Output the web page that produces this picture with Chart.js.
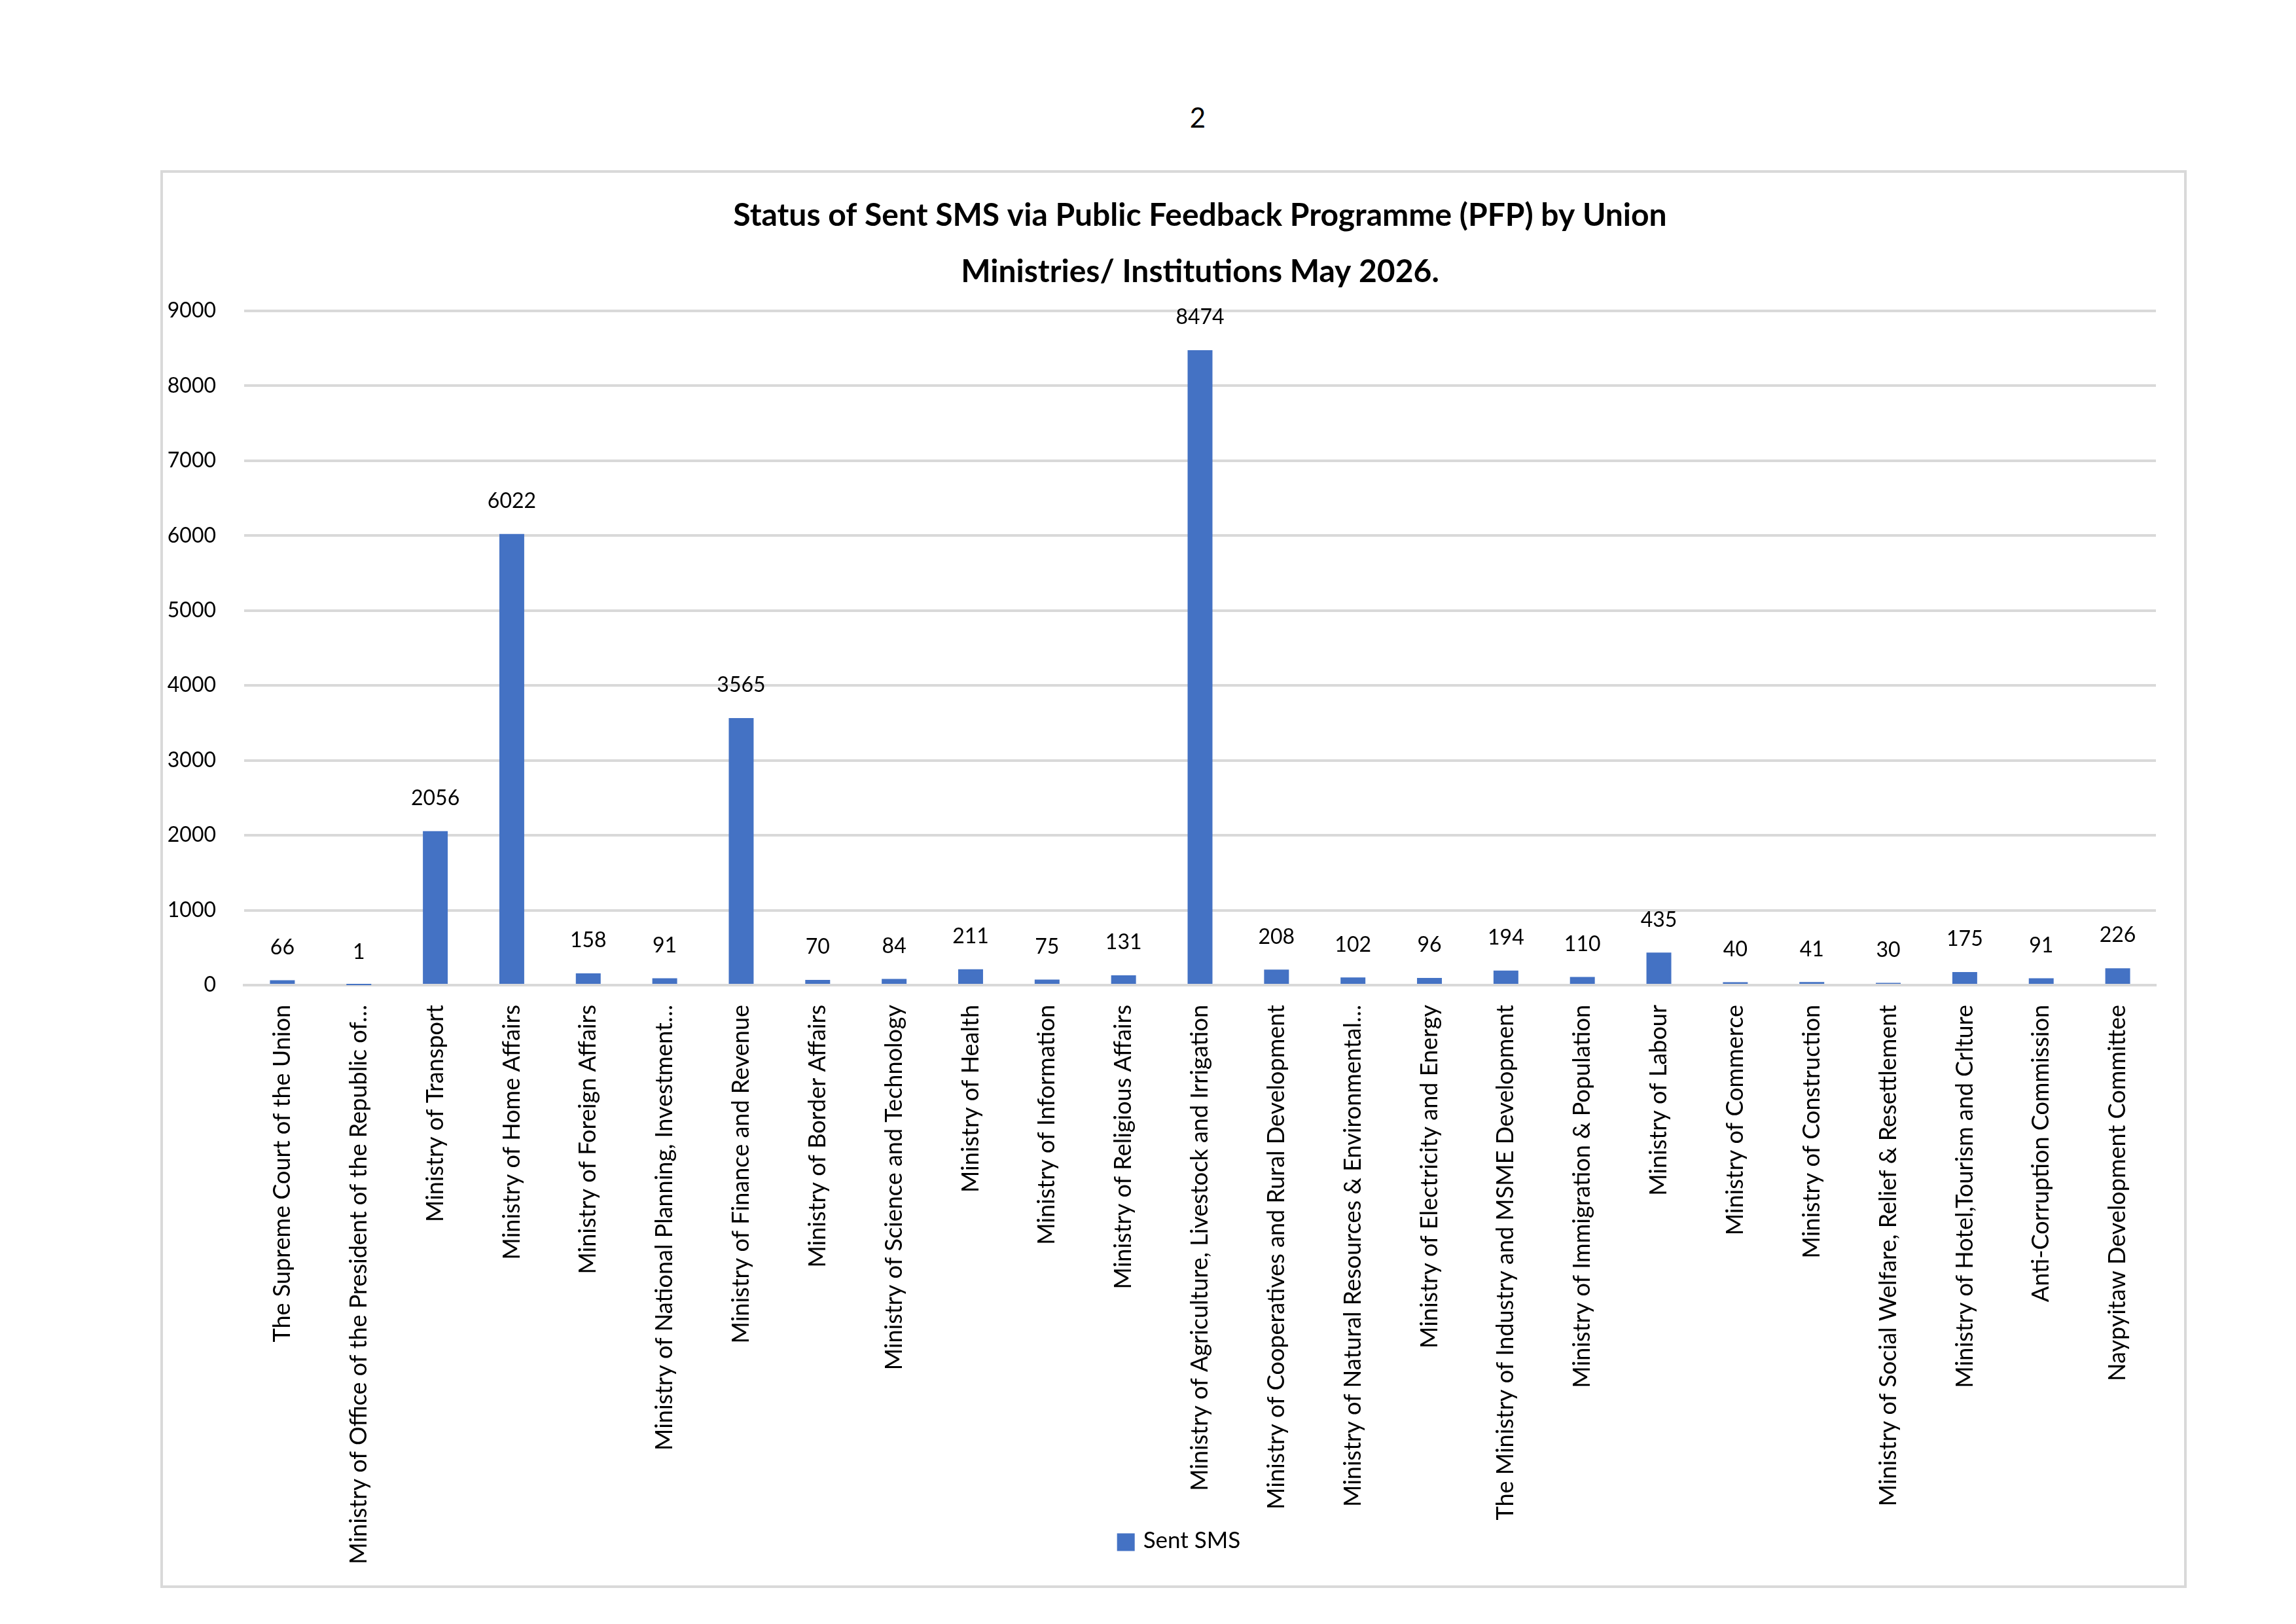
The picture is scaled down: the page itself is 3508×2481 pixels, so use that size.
<!DOCTYPE html>
<html>
<head>
<meta charset="utf-8">
<title>Status of Sent SMS via PFP</title>
<script src="https://cdn.jsdelivr.net/npm/chart.js@4.4.0/dist/chart.umd.min.js"></script>
<style>
  html, body { margin: 0; padding: 0; background: #fff; }
  body { width: 3508px; height: 2481px; position: relative; overflow: hidden; }
  #pageNo {
    position: absolute; left: 1730px; top: 158px; width: 200px;
    font-family: Lato, sans-serif; font-size: 42px; line-height: 42px;
    color: #000; text-align: center;
  }
  #frame {
    position: absolute; left: 245px; top: 260px; width: 3096px; height: 2166px;
    box-sizing: border-box; border: 4px solid #d9d9d9;
  }
  #chartBox { position: absolute; left: 249px; top: 264px; width: 3088px; height: 2158px; }
</style>
</head>
<body>
<div id="pageNo">2</div>
<div id="frame"></div>
<div id="chartBox"><canvas id="smsChart" width="3088" height="2158"></canvas></div>

<script>
// --- Data ---
const ministries = [
  "The Supreme Court of the Union",
  "Ministry of Office of the President of the Republic of…",
  "Ministry of Transport",
  "Ministry of Home Affairs",
  "Ministry of Foreign Affairs",
  "Ministry of National Planning, Investment…",
  "Ministry of Finance and Revenue",
  "Ministry of Border Affairs",
  "Ministry of Science and Technology",
  "Ministry of Health",
  "Ministry of Information",
  "Ministry of Religious Affairs",
  "Ministry of Agriculture, Livestock and Irrigation",
  "Ministry of Cooperatives and Rural Development",
  "Ministry of Natural Resources & Environmental…",
  "Ministry of Electricity and Energy",
  "The Ministry of Industry and MSME Development",
  "Ministry of Immigration & Population",
  "Ministry of Labour",
  "Ministry of Commerce",
  "Ministry of Construction",
  "Ministry of Social Welfare, Relief & Resettlement",
  "Ministry of Hotel,Tourism and Crlture",
  "Anti-Corruption Commission",
  "Naypyitaw Development Committee"
];
const sentSMS = [66, 1, 2056, 6022, 158, 91, 3565, 70, 84, 211, 75, 131, 8474,
                 208, 102, 96, 194, 110, 435, 40, 41, 30, 175, 91, 226];
const seriesName = "Sent SMS";
const titleLines = [
  "Status of Sent SMS via Public Feedback Programme (PFP) by Union",
  "Ministries/ Institutions May 2026."
];
const yMin = 0, yMax = 9000, yStep = 1000;

const FONT = "Lato, 'Open Sans', sans-serif";
const BAR_BLUE = "#4472C4";

// Draws the value above each bar (Excel "outside end" labels)
const barValueLabels = {
  id: "barValueLabels",
  afterDatasetsDraw(chart) {
    const ctx = chart.ctx;
    const meta = chart.getDatasetMeta(0);
    ctx.save();
    ctx.font = "32px " + FONT;
    ctx.fillStyle = "#000";
    ctx.textAlign = "center";
    ctx.textBaseline = "middle";
    meta.data.forEach((bar, i) => {
      ctx.fillText(String(sentSMS[i]), bar.x, bar.y - 50);
    });
    ctx.restore();
  }
};

// Legend sits between the long category labels, like Excel does it,
// so it is drawn here instead of taking its own layout row
const bottomLegend = {
  id: "bottomLegend",
  afterDraw(chart) {
    const ctx = chart.ctx;
    const ds = chart.data.datasets[0];
    const box = 27, gap = 13;
    ctx.save();
    ctx.font = "35px " + FONT;
    const tw = ctx.measureText(ds.label).width;
    const total = box + gap + tw;
    const x0 = chart.width / 2 - total / 2 + 8;
    const yc = chart.height - 66;
    ctx.fillStyle = ds.backgroundColor;
    ctx.fillRect(x0, yc - box / 2, box, box);
    ctx.fillStyle = "#000";
    ctx.textAlign = "left";
    ctx.textBaseline = "middle";
    ctx.fillText(ds.label, x0 + box + gap, yc - 2);
    ctx.restore();
  }
};

new Chart(document.getElementById("smsChart"), {
  type: "bar",
  data: {
    labels: ministries,
    datasets: [{
      label: seriesName,
      data: sentSMS,
      backgroundColor: BAR_BLUE,
      borderWidth: 0,
      categoryPercentage: 1.0,
      barPercentage: 0.325
    }]
  },
  options: {
    responsive: false,
    animation: false,
    devicePixelRatio: 1,
    layout: { padding: { left: 0, right: 43, top: 0, bottom: 0 } },
    plugins: {
      title: {
        display: true,
        text: titleLines,
        fullSize: false,
        color: "#000",
        font: { family: FONT, size: 48, weight: "bold", lineHeight: 1.79 },
        padding: { top: 23, bottom: 16 }
      },
      legend: { display: false },
      tooltip: { enabled: false }
    },
    scales: {
      x: {
        grid: { display: false },
        border: { display: true, color: "#d9d9d9", width: 4 },
        ticks: {
          autoSkip: false,
          minRotation: 90,
          maxRotation: 90,
          padding: 22,
          color: "#000",
          font: { family: FONT, size: 36 }
        },
        afterFit(scale) { scale.height = 917; }
      },
      y: {
        min: yMin,
        max: yMax,
        ticks: {
          stepSize: yStep,
          padding: 43,
          color: "#000",
          font: { family: FONT, size: 32 },
          callback: (v) => String(v)
        },
        grid: { color: "#d9d9d9", lineWidth: 4, drawTicks: false },
        border: { display: false },
        afterFit(scale) { scale.width = 124; }
      }
    }
  },
  plugins: [barValueLabels, bottomLegend]
});
</script>
</body>
</html>
